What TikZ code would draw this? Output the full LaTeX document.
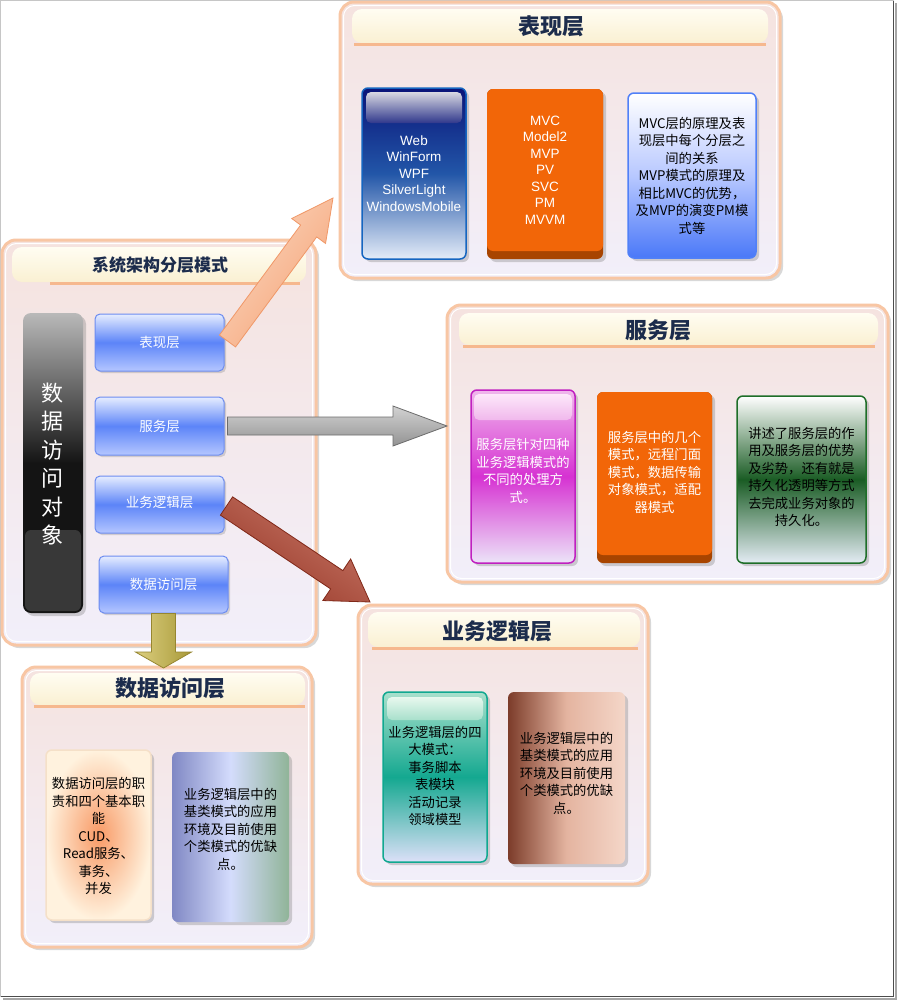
\documentclass[tikz,border=0pt]{standalone}
\usepackage{fontspec}
\setmainfont{Liberation Sans}
\newfontfamily\cjk{Noto Sans CJK SC}
\usetikzlibrary{calc,shadows}

\definecolor{panelborder}{HTML}{F8C6A4}
\definecolor{paneltop}{HTML}{F5E3DF}
\definecolor{panelbot}{HTML}{F2EFFA}
\definecolor{hdrtop}{HTML}{FFFDF2}
\definecolor{hdrbot}{HTML}{FAF0D2}
\definecolor{titlecol}{HTML}{1C2C4C}
\definecolor{hlinecol}{HTML}{F6B88E}
\definecolor{btnborder}{HTML}{6C8CF0}
\definecolor{btntop}{HTML}{E6EDFF}
\definecolor{btnmid}{HTML}{5C84F8}
\definecolor{btnbot}{HTML}{B4C6FF}
\definecolor{webborder}{HTML}{1565C0}
\definecolor{webtop}{HTML}{0A1478}
\definecolor{webmid}{HTML}{2256A8}
\definecolor{webbot}{HTML}{E4ECF8}
\definecolor{webglt}{HTML}{D8D8E2}
\definecolor{webglb}{HTML}{30388C}
\definecolor{orrim}{HTML}{A84400}
\definecolor{orfill}{HTML}{F26608}
\definecolor{lbborder}{HTML}{5080F8}
\definecolor{lbmid}{HTML}{B8C8FF}
\definecolor{lbbot}{HTML}{4A78F8}
\definecolor{magborder}{HTML}{C020C0}
\definecolor{magtop}{HTML}{F0B8EC}
\definecolor{magmid}{HTML}{D632D2}
\definecolor{magbot}{HTML}{ECE4F8}
\definecolor{magglt}{HTML}{FDE8FA}
\definecolor{grborder}{HTML}{1E6E28}
\definecolor{grmid}{HTML}{1A5C24}
\definecolor{grbot}{HTML}{E4ECF4}
\definecolor{tlborder}{HTML}{10A890}
\definecolor{tltop}{HTML}{A8E0CC}
\definecolor{tlmid}{HTML}{14A890}
\definecolor{tlbot}{HTML}{DCE0F8}
\definecolor{tlglt}{HTML}{E8F8EE}
\definecolor{brleft}{HTML}{7C3C2A}
\definecolor{brmid}{HTML}{E4B4A0}
\definecolor{brright}{HTML}{F4D6C8}
\definecolor{pcin}{HTML}{F89A66}
\definecolor{pcout}{HTML}{FFF2DE}
\definecolor{pcborder}{HTML}{F5E0C8}
\definecolor{lvleft}{HTML}{8088C4}
\definecolor{lvmid}{HTML}{D4DCFC}
\definecolor{lvright}{HTML}{90B498}
\definecolor{peachtop}{HTML}{FCD6BE}
\definecolor{peachbot}{HTML}{F4A478}
\definecolor{peachdraw}{HTML}{F09868}
\definecolor{browntop}{HTML}{C87868}
\definecolor{brownbot}{HTML}{983828}
\definecolor{browndraw}{HTML}{802818}
\definecolor{olivetop}{HTML}{DCD080}
\definecolor{olivebot}{HTML}{A89838}
\definecolor{olivedraw}{HTML}{968630}

\newcommand\blkarrow[6]{%
  \coordinate (hb) at ($(#2)!#5!(#1)$);
  \path[#6] ($(#1)!#3!90:(#2)$) -- ($(hb)!#3!90:(#2)$) -- ($(hb)!#4!90:(#2)$) -- (#2)
    -- ($(hb)!#4!-90:(#2)$) -- ($(hb)!#3!-90:(#2)$) -- ($(#1)!#3!-90:(#2)$) -- cycle;
}

\tikzset{
  panel/.style={draw=panelborder, line width=3pt, rounded corners=14pt, top color=paneltop, bottom color=panelbot, inner sep=0pt,
    drop shadow={opacity=0.3, shadow xshift=3pt, shadow yshift=-3pt}},
  panelinner/.style={draw=white, line width=1pt, rounded corners=11pt},
  header/.style={rounded corners=10pt, top color=hdrtop, bottom color=hdrbot},
  hline/.style={draw=hlinecol, line width=3pt},
  title/.style={font=\cjk\bfseries\fontsize{22}{26}\selectfont, text=titlecol},
  card/.style={rounded corners=6pt, inner sep=0pt, drop shadow={opacity=0.35, shadow xshift=3pt, shadow yshift=-3pt}},
  gloss/.style={rounded corners=5pt},
  ctext/.style={font=\cjk\fontsize{13.3}{17.5}\selectfont, align=center},
  ltext/.style={font=\fontsize{13.5}{16.5}\selectfont, align=center},
  btn/.style={rounded corners=5pt, draw=btnborder, line width=1pt, top color=btntop, bottom color=btnbot, middle color=btnmid,
    text=white, font=\cjk\fontsize{13.5}{16}\selectfont, minimum width=129pt, minimum height=57pt, inner sep=0pt,
    drop shadow={opacity=0.3, shadow xshift=2pt, shadow yshift=-2pt}},
  peacharrow/.style={draw=peachdraw, line width=0.8pt, top color=peachtop, bottom color=peachbot, shading angle=53},
  grayarrow/.style={draw=gray!85!black, line width=0.8pt, top color=gray!35, bottom color=gray!85, shading angle=0},
  brownarrow/.style={draw=browndraw, line width=0.8pt, top color=browntop, bottom color=brownbot, shading angle=-34},
  olivearrow/.style={draw=olivedraw, line width=0.8pt, top color=olivetop, bottom color=olivebot, shading angle=90},
}

\begin{document}
\begin{tikzpicture}[x=1pt,y=1pt]
\useasboundingbox (0,0) rectangle (897,-1001);
\fill[white] (0,0) rectangle (897,-1001);
\draw[gray!45, line width=0.8pt] (0.5,-0.5) rectangle (893.5,-996.5);
\draw[black!70, line width=1.5pt] (893.5,-1) -- (893.5,-996.5) -- (1,-996.5);
\draw[black!35, line width=2pt] (896,-3) -- (896,-999) -- (3,-999);

% ---------- main panel ----------
\node[panel, minimum width=314pt, minimum height=405pt] (P0) at (159,-442.5) {};
\draw[panelinner] ($(P0.north west)+(5,-5)$) rectangle ($(P0.south east)+(-5,5)$);
\path[header] (12,-247) rectangle (306,-282);
\draw[hline] (50,-283) -- (300,-283);
\node[title, font=\cjk\bfseries\fontsize{17}{20}\selectfont] (t0) at (160,-265) {系统架构分层模式};

% ---------- presentation panel ----------
\node[panel, minimum width=440pt, minimum height=276pt] (P1) at (560,-140) {};
\draw[panelinner] ($(P1.north west)+(5,-5)$) rectangle ($(P1.south east)+(-5,5)$);
\path[header] (352,-9) rectangle (768,-43);
\draw[hline] (354,-44) -- (766,-44);
\node[title] (t1) at (551,-26) {表现层};

% ---------- service panel ----------
\node[panel, minimum width=441pt, minimum height=277pt] (P2) at (667.5,-443.5) {};
\draw[panelinner] ($(P2.north west)+(5,-5)$) rectangle ($(P2.south east)+(-5,5)$);
\path[header] (459,-313) rectangle (878,-345);
\draw[hline] (463,-346) -- (875,-346);
\node[title] (t2) at (658,-330) {服务层};

% ---------- business panel ----------
\node[panel, minimum width=290pt, minimum height=279pt] (P3) at (503,-744.5) {};
\draw[panelinner] ($(P3.north west)+(5,-5)$) rectangle ($(P3.south east)+(-5,5)$);
\path[header] (368,-612) rectangle (640,-647);
\draw[hline] (372,-648) -- (638,-648);
\node[title] (t3) at (497,-631) {业务逻辑层};

% ---------- data access panel ----------
\node[panel, minimum width=290pt, minimum height=280pt] (P4) at (167,-807) {};
\draw[panelinner] ($(P4.north west)+(5,-5)$) rectangle ($(P4.south east)+(-5,5)$);
\path[header] (30,-673) rectangle (305,-705);
\draw[hline] (34,-706) -- (305,-706);
\node[title] (t4) at (170,-688) {数据访问层};

% ---------- main panel contents ----------
\node[card, rounded corners=8pt, top color=gray!55, bottom color=black!92, middle color=black!92,
  minimum width=60pt, minimum height=300pt] (dao) at (53,-463) {};
\path[fill=black!78, rounded corners=6pt] (25,-530) rectangle (81,-611);
\node[font=\cjk\fontsize{22}{28.5}\selectfont, text=white, align=center] (daot) at (52,-464) {数\\据\\访\\问\\对\\象};

\node[btn] (b1) at (159.5,-342.5) {表现层};
\node[btn, minimum height=58pt] (b2) at (159.5,-426) {服务层};
\node[btn] (b3) at (159.5,-504.5) {\raisebox{6pt}{业务逻辑层}};
\node[btn] (b4) at (163.5,-584.5) {数据访问层};

% ---------- presentation cards ----------
\node[card, draw=webborder, line width=1.5pt, top color=webtop, bottom color=webbot, middle color=webmid,
  minimum width=104pt, minimum height=171pt] (web) at (414,-173.5) {};
\path[gloss, top color=webglt, bottom color=webglb] (366,-92) rectangle (462,-123);
\node[ltext, text=white] (webt) at (web) {Web\\WinForm\\WPF\\SilverLight\\WindowsMobile};

\node[card, fill=orrim, minimum width=116pt, minimum height=170pt] (mvc) at (545,-174) {};
\path[fill=orfill, rounded corners=6pt] (487,-89) rectangle (603,-251);
\node[ltext, text=white] (mvct) at (545,-170) {MVC\\Model2\\MVP\\PV\\SVC\\PM\\MVVM};

\node[card, draw=lbborder, line width=1.5pt, top color=white, bottom color=lbbot, middle color=lbmid,
  minimum width=128pt, minimum height=165pt] (mvcd) at (692,-175.5) {};
\node[ctext] (mvcdt) at (mvcd) {MVC层的原理及表\\现层中每个分层之\\间的关系\\MVP模式的原理及\\相比MVC的优势，\\及MVP的演变PM模\\式等};

% ---------- service cards ----------
\node[card, draw=magborder, line width=1.5pt, top color=magtop, bottom color=magbot, middle color=magmid,
  minimum width=104pt, minimum height=173pt] (mag) at (523,-476.5) {};
\path[gloss, top color=magglt, bottom color=magtop] (474,-394) rectangle (572,-420);
\node[ctext, text=white] (magt) at (523,-471) {服务层针对四种\\业务逻辑模式的\\不同的处理方\\式。};

\node[card, fill=orrim, minimum width=115pt, minimum height=171pt] (svc) at (654.5,-477.5) {};
\path[fill=orfill, rounded corners=6pt] (597,-392) rectangle (712,-555);
\node[ctext, text=white] (svct) at (654.5,-472) {服务层中的几个\\模式，远程门面\\模式，数据传输\\对象模式，适配\\器模式};

\node[card, draw=grborder, line width=1.5pt, top color=white, bottom color=grbot, middle color=grmid,
  minimum width=129pt, minimum height=167pt] (grn) at (801.5,-479.5) {};
\node[ctext] (grnt) at (801.5,-477) {讲述了服务层的作\\用及服务层的优势\\及劣势，还有就是\\持久化透明等方式\\去完成业务对象的\\持久化。};

% ---------- business cards ----------
\node[card, draw=tlborder, line width=1.5pt, top color=tltop, bottom color=tlbot, middle color=tlmid,
  minimum width=104pt, minimum height=170pt] (teal) at (435,-777) {};
\path[gloss, top color=tlglt, bottom color=tltop] (387,-697) rectangle (483,-720);
\node[ctext] (tealt) at (435,-776) {业务逻辑层的四\\大模式：\\事务脚本\\表模块\\活动记录\\领域模型};

\node[card, left color=brleft, right color=brright, middle color=brmid,
  minimum width=117pt, minimum height=172pt] (brn) at (566.5,-778) {};
\node[ctext] (brnt) at (566.5,-773) {业务逻辑层中的\\基类模式的应用\\环境及目前使用\\个类模式的优缺\\点。};

% ---------- data access cards ----------
\node[card, draw=pcborder, line width=1.5pt, inner color=pcin, outer color=pcout,
  minimum width=105pt, minimum height=170pt] (pch) at (98.5,-835) {};
\node[ctext] (pcht) at (98.5,-836) {数据访问层的职\\责和四个基本职\\能\\CUD、\\Read服务、\\事务、\\并发};

\node[card, left color=lvleft, right color=lvright, middle color=lvmid,
  minimum width=117pt, minimum height=170pt] (lav) at (230.5,-837) {};
\node[ctext] (lavt) at (230.5,-829) {业务逻辑层中的\\基类模式的应用\\环境及目前使用\\个类模式的优缺\\点。};

% ---------- block arrows ----------
\coordinate (a1s) at ($(b1.east)+(3,1.5)$);
\coordinate (a1e) at (333,-198);
\coordinate (a2s) at ($(b2.east)+(3,0)$);
\coordinate (a2e) at (447,-426);
\coordinate (a3s) at ($(b3.east)+(2,-1.5)$);
\coordinate (a3e) at (370,-602);
\coordinate (a4s) at (b4.south);
\coordinate (a4e) at (163.5,-668);

\blkarrow{a1s}{a1e}{10pt}{21pt}{41pt}{peacharrow}
\blkarrow{a2s}{a2e}{9pt}{20pt}{54pt}{grayarrow}
\blkarrow{a3s}{a3e}{11pt}{25pt}{40pt}{brownarrow}
\blkarrow{a4s}{a4e}{12pt}{28pt}{16pt}{olivearrow}
\end{tikzpicture}
\end{document}
